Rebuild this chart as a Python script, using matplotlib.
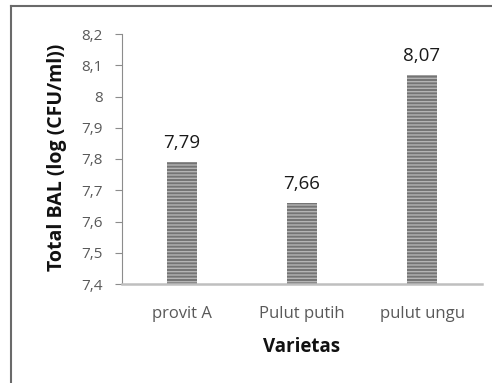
import matplotlib
matplotlib.use("Agg")
import matplotlib.pyplot as plt
from matplotlib.lines import Line2D

categories = ["provit A", "Pulut putih", "pulut ungu"]
values = [7.79, 7.66, 8.07]
value_labels = ["7,79", "7,66", "8,07"]
yticks = [7.4, 7.5, 7.6, 7.7, 7.8, 7.9, 8.0, 8.1, 8.2]
ytick_labels = ["7,4", "7,5", "7,6", "7,7", "7,8", "7,9", "8", "8,1", "8,2"]

plt.rcParams['font.family'] = ['Open Sans', 'DejaVu Sans']
plt.rcParams['hatch.linewidth'] = 1.0

fig = plt.figure(figsize=(4.92, 3.83), dpi=100)
ax = fig.add_axes([122/492, 1-284/383, 360/492, 250/383])

x = range(len(categories))
bars = ax.bar(x, [v - 7.4 for v in values], bottom=7.4, width=0.25,
              color="#747474", edgecolor="#b4b4b4", hatch="-----", linewidth=0)

for i, (v, lab) in enumerate(zip(values, value_labels)):
    ax.text(i, v + 0.045, lab, ha="center", va="baseline", fontsize=13.5, color="#1a1a1a")

ax.set_ylim(7.4, 8.2)
ax.set_xlim(-0.5, 2.5)
ax.set_yticks(yticks)
ax.set_yticklabels(ytick_labels, fontsize=11, color="#595959")
ax.set_xticks(list(x))
ax.set_xticklabels(categories, fontsize=12, color="#595959")
ax.tick_params(axis="x", length=0, pad=16)
ax.tick_params(axis="y", length=5, color="#8c8c8c", pad=9)
for s in ["top", "right"]:
    ax.spines[s].set_visible(False)
ax.spines["left"].set_color("#8c8c8c")
ax.spines["bottom"].set_color("#bfbfbf")
ax.spines["bottom"].set_linewidth(1.8)

fig.text(57/492, 1-157.5/383, "Total BAL (log (CFU/ml))", rotation=90, ha="center", va="center",
         fontsize=14, fontweight="bold", color="#111111")
fig.text(302/492, 1-347/383, "Varietas", ha="center", va="center",
         fontsize=13.5, fontweight="bold", color="#111111")

fig.add_artist(Line2D([11/492, 11/492], [0, 1-6/383], transform=fig.transFigure, color="#6a6a6a", lw=1.5))
fig.add_artist(Line2D([11/492, 1], [1-6/383, 1-6/383], transform=fig.transFigure, color="#6a6a6a", lw=1.5))

fig.savefig("out.png", dpi=100)
